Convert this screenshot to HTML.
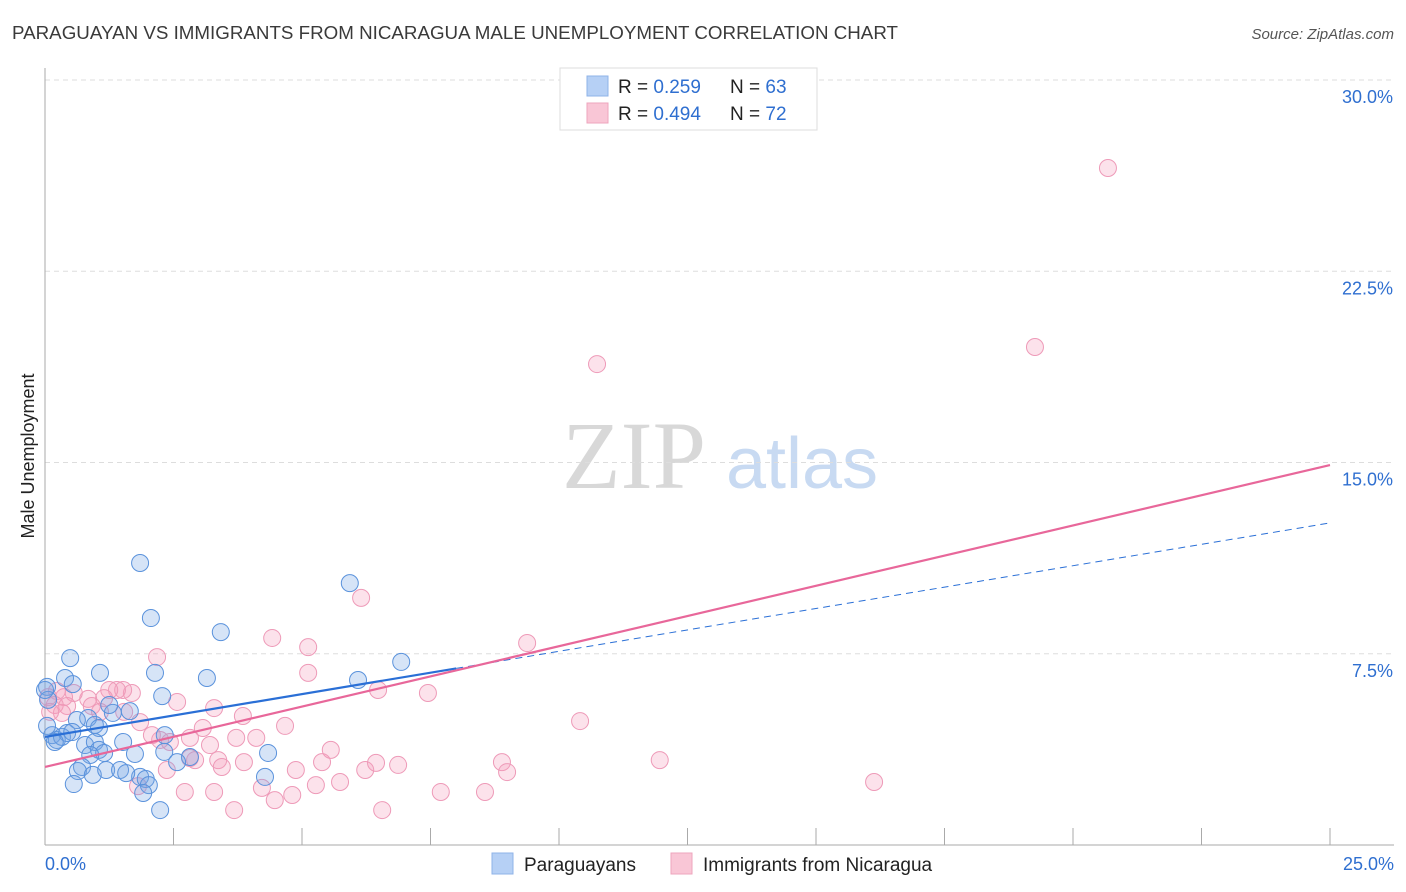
<!DOCTYPE html>
<html><head><meta charset="utf-8">
<style>
body{margin:0;background:#fff;font-family:"Liberation Sans",sans-serif;}
svg{display:block}
</style></head>
<body>
<svg id="chart" width="1406" height="892">
<text x="12" y="39" font-size="18" fill="#3a3a3a" textLength="886" lengthAdjust="spacingAndGlyphs">PARAGUAYAN VS IMMIGRANTS FROM NICARAGUA MALE UNEMPLOYMENT CORRELATION CHART</text>
<text x="1394" y="39" font-size="15" fill="#555" font-style="italic" text-anchor="end">Source: ZipAtlas.com</text>
<text x="634" y="488" font-size="96" fill="#d8d8d8" font-family="Liberation Serif,serif" text-anchor="middle">ZIP</text>
<text x="802" y="488" font-size="72" fill="#c8daf2" text-anchor="middle">atlas</text>
<text transform="translate(34,456) rotate(-90)" font-size="18" fill="#222" text-anchor="middle">Male Unemployment</text>
<g id="grid"></g>
<g id="pts"></g>
<g id="lines"></g>
<g>
<rect x="560" y="68" width="257" height="62" fill="#fff" stroke="#ddd"/>
<rect x="587" y="76" width="21" height="20" fill="#b6d0f5" stroke="#8fb3e8"/>
<rect x="587" y="103" width="21" height="20" fill="#f9c6d6" stroke="#eea5bd"/>
<text x="618" y="93" font-size="19" fill="#222">R = <tspan fill="#2f6fd0">0.259</tspan><tspan x="730">N = </tspan><tspan fill="#2f6fd0">63</tspan></text>
<text x="618" y="120" font-size="19" fill="#222">R = <tspan fill="#2f6fd0">0.494</tspan><tspan x="730">N = </tspan><tspan fill="#2f6fd0">72</tspan></text>
</g>
<g>
<rect x="492" y="853" width="21" height="21" fill="#b6d0f5" stroke="#8fb3e8"/>
<text x="524" y="871" font-size="19" fill="#222">Paraguayans</text>
<rect x="671" y="853" width="21" height="21" fill="#f9c6d6" stroke="#eea5bd"/>
<text x="703" y="871" font-size="19" fill="#222">Immigrants from Nicaragua</text>
</g>
</svg>
<script>
const yTicks=[7.5,15,22.5,30];
const yTickLabels=["7.5%","15.0%","22.5%","30.0%"];
const xTicks=[2.5,5,7.5,10,12.5,15,17.5,20,22.5,25];
const xLabels=["0.0%","25.0%"];
const blueX=[1.85,2.06,3.42,5.93,6.93,6.09,3.15,2.14,2.28,1.07,0.49,0.39,0.54,0.04,0.06,0.84,0.62,0.97,1.05,1.32,1.65,0.14,0.23,0.33,0.43,0.53,0.19,0.78,0.97,1.05,1.15,0.88,1.52,1.75,2.33,2.32,2.82,2.57,0.72,0.64,0.93,1.19,1.46,1.85,1.96,2.02,1.91,2.24,0.56,4.34,4.28,1.58,0.04,1.25,0.0];
const blueY=[11.06,8.90,8.35,10.27,7.18,6.47,6.55,6.75,5.84,6.75,7.33,6.55,6.31,6.20,5.69,4.98,4.90,4.71,4.59,5.18,5.25,4.31,4.12,4.24,4.39,4.43,4.04,3.92,4.04,3.73,3.61,3.53,4.04,3.57,4.31,3.65,3.45,3.25,3.06,2.90,2.75,2.94,2.94,2.67,2.59,2.35,2.04,1.37,2.39,3.61,2.67,2.82,4.67,5.49,6.08];
const pinkX=[20.68,19.26,10.74,6.15,9.38,4.42,5.12,5.12,2.18,2.57,1.69,1.52,1.40,1.25,1.15,0.84,0.56,0.37,0.23,0.06,0.19,0.43,0.33,0.91,1.07,0.10,1.54,1.85,2.08,2.24,2.43,2.37,2.82,2.82,2.92,3.07,3.21,3.29,3.72,3.87,4.11,3.37,3.44,3.85,4.67,4.22,4.47,4.81,3.68,4.88,5.27,5.39,5.56,5.74,6.23,6.44,6.48,6.87,6.56,7.45,7.70,8.56,8.89,8.99,10.41,11.96,16.13,3.29,2.72,1.81];
const pinkY=[26.55,19.53,18.86,9.69,7.92,8.12,7.76,6.75,7.37,5.61,5.96,6.08,6.08,6.08,5.76,5.73,5.96,5.80,6.04,5.80,5.49,5.45,5.18,5.45,5.22,5.22,5.22,4.82,4.31,4.12,4.04,2.94,4.20,3.41,3.33,4.59,3.92,5.37,4.20,3.25,4.20,3.33,3.06,5.06,4.67,2.24,1.76,1.96,1.37,2.94,2.35,3.25,3.73,2.47,2.94,3.22,6.08,3.14,1.37,5.96,2.08,2.08,3.25,2.86,4.86,3.33,2.47,2.08,2.08,2.31];
const blueFit=[4.24,0.3356];
const pinkFit=[3.06,0.4736];
const X=v=>45+v*51.4, Y=v=>845-v*25.5;
const NS="http://www.w3.org/2000/svg";
function mk(t,a,p){const e=document.createElementNS(NS,t);for(const k in a)e.setAttribute(k,a[k]);p.appendChild(e);return e;}
const grid=document.getElementById('grid');
yTicks.forEach((v,i)=>{
 const l=mk('line',{x1:45,x2:1394,y1:Y(v),y2:Y(v),stroke:'#ddd','stroke-dasharray':'5,4'},grid);
 
 
 const t=mk('text',{x:1393,y:Y(v)+23,'font-size':18,fill:'#2f6fd0','text-anchor':'end'},grid);
 t.textContent=yTickLabels[i];
 
 
});
const ax=mk('line',{x1:45,x2:45,y1:68,y2:845,stroke:'#aaa'},grid);


const bx=mk('line',{x1:45,x2:1394,y1:845,y2:845,stroke:'#aaa'},grid);


xTicks.forEach(v=>{
 const l=mk('line',{x1:X(v),x2:X(v),y1:828,y2:845,stroke:'#aaa'},grid);
 
 
});
[[0,'start',45],[25,'end',1394]].forEach((d,i)=>{
 const t=mk('text',{x:d[2],y:870,'font-size':18,fill:'#2f6fd0','text-anchor':d[1]},grid);
 t.textContent=xLabels[i];
 
 
});
const pts=document.getElementById('pts');
pinkX.forEach((x,i)=>{
 const c=mk('circle',{cx:X(x),cy:Y(pinkY[i]),r:8.5,fill:'rgba(244,160,188,0.3)',stroke:'#ee9ab8','stroke-width':1},pts);
 
 
});
blueX.forEach((x,i)=>{
 const c=mk('circle',{cx:X(x),cy:Y(blueY[i]),r:8.5,fill:'rgba(120,165,230,0.3)',stroke:'#5a92dc','stroke-width':1},pts);
 
 
});
const lines=document.getElementById('lines');
const f=(p,x)=>p[0]+p[1]*x;
const b1=mk('line',{x1:X(0),y1:Y(f(blueFit,0)),x2:X(8),y2:Y(f(blueFit,8)),stroke:'#2a6fd6','stroke-width':2.2},lines);


const b2=mk('line',{x1:X(8),y1:Y(f(blueFit,8)),x2:X(25),y2:Y(f(blueFit,25)),stroke:'#2a6fd6','stroke-width':1,'stroke-dasharray':'7,5'},lines);


const p1=mk('line',{x1:X(0),y1:Y(f(pinkFit,0)),x2:X(25),y2:Y(f(pinkFit,25)),stroke:'#e8679a','stroke-width':2.2},lines);


</script>
</body></html>
